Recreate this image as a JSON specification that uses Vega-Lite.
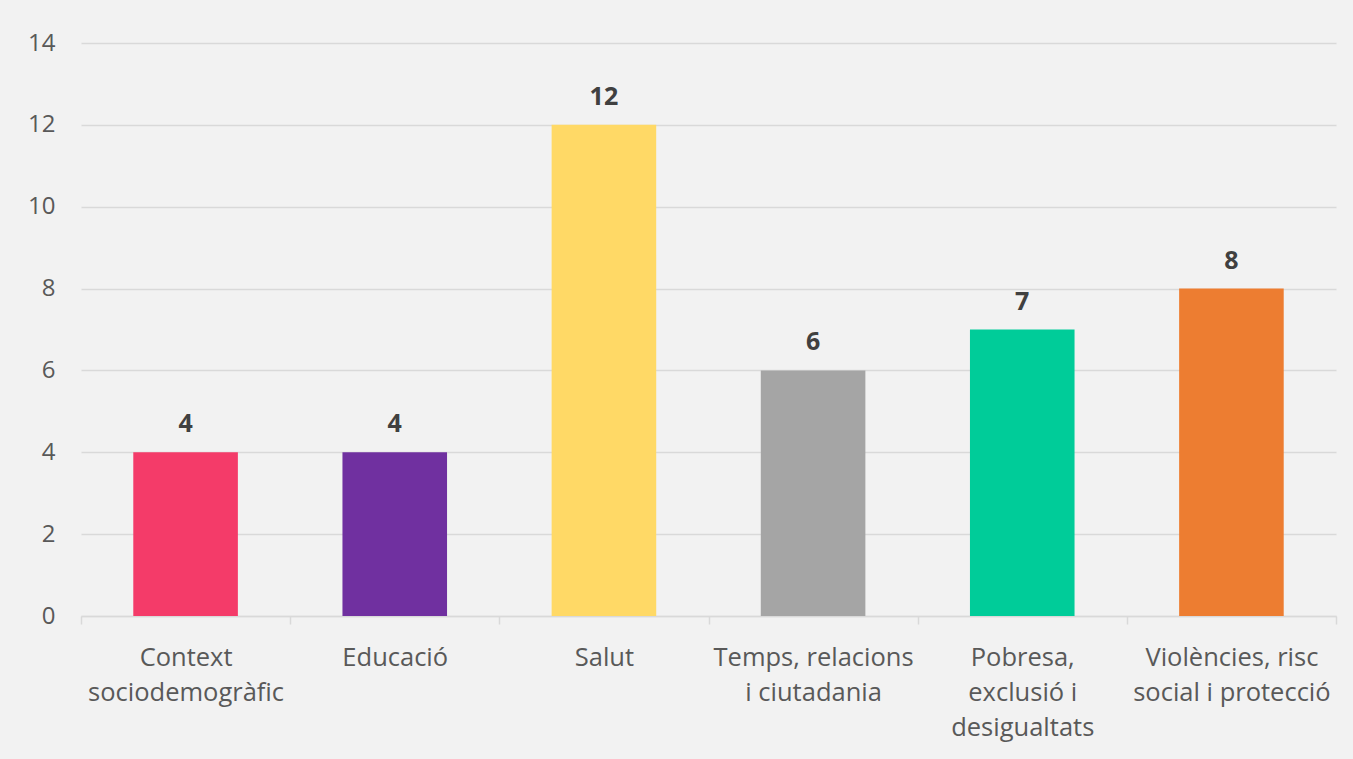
{
  "$schema": "https://vega.github.io/schema/vega-lite/v6.json",
  "width": 1255,
  "height": 573,
  "autosize": {"type": "none"},
  "padding": {"left": 81, "top": 43, "right": 17, "bottom": 143},
  "background": "#f2f2f2",
  "config": {"view": {"stroke": null}, "font": "Open Sans"},
  "data": {
    "values": [
      {"cat": "Context|sociodemogràfic", "value": 4},
      {"cat": "Educació", "value": 4},
      {"cat": "Salut", "value": 12},
      {"cat": "Temps, relacions|i ciutadania", "value": 6},
      {"cat": "Pobresa,|exclusió i|desigualtats", "value": 7},
      {"cat": "Violències, risc|social i protecció", "value": 8}
    ]
  },
  "encoding": {
    "x": {
      "field": "cat",
      "type": "nominal",
      "sort": null,
      "scale": {"paddingInner": 0, "paddingOuter": 0},
      "axis": {
        "title": null,
        "labelAngle": 0,
        "labelExpr": "isString(datum.value) ? split(datum.value, '|') : ''",
        "labelFont": "Open Sans",
        "labelFontSize": 25.5,
        "labelColor": "#595959",
        "labelLineHeight": 35,
        "labelPadding": 21,
        "labelBaseline": "top",
        "labelLimit": 400,
        "tickBand": "extent",
        "tickSize": 8,
        "tickColor": "#d9d9d9",
        "domainColor": "#d9d9d9",
        "tickWidth": 1.5,
        "domainWidth": 1.5
      }
    },
    "y": {
      "field": "value",
      "type": "quantitative",
      "scale": {"domain": [0, 14]},
      "axis": {
        "title": null,
        "values": [0, 2, 4, 6, 8, 10, 12, 14],
        "domain": false,
        "ticks": false,
        "labelPadding": 26,
        "labelFont": "Open Sans",
        "labelFontSize": 24,
        "labelColor": "#595959",
        "gridColor": "#d9d9d9",
        "gridWidth": 1.5
      }
    }
  },
  "layer": [
    {
      "mark": {"type": "bar", "width": {"band": 0.5}},
      "encoding": {
        "color": {
          "field": "cat",
          "type": "nominal",
          "sort": null,
          "legend": null,
          "scale": {"range": ["#f43b69", "#7030a0", "#ffd966", "#a5a5a5", "#00cc99", "#ed7d31"]}
        }
      }
    },
    {
      "mark": {"type": "text", "fontWeight": "bold", "fontSize": 25, "color": "#404040", "baseline": "alphabetic", "dy": -20, "font": "Open Sans"},
      "encoding": {"text": {"field": "value", "type": "quantitative"}}
    }
  ]
}
